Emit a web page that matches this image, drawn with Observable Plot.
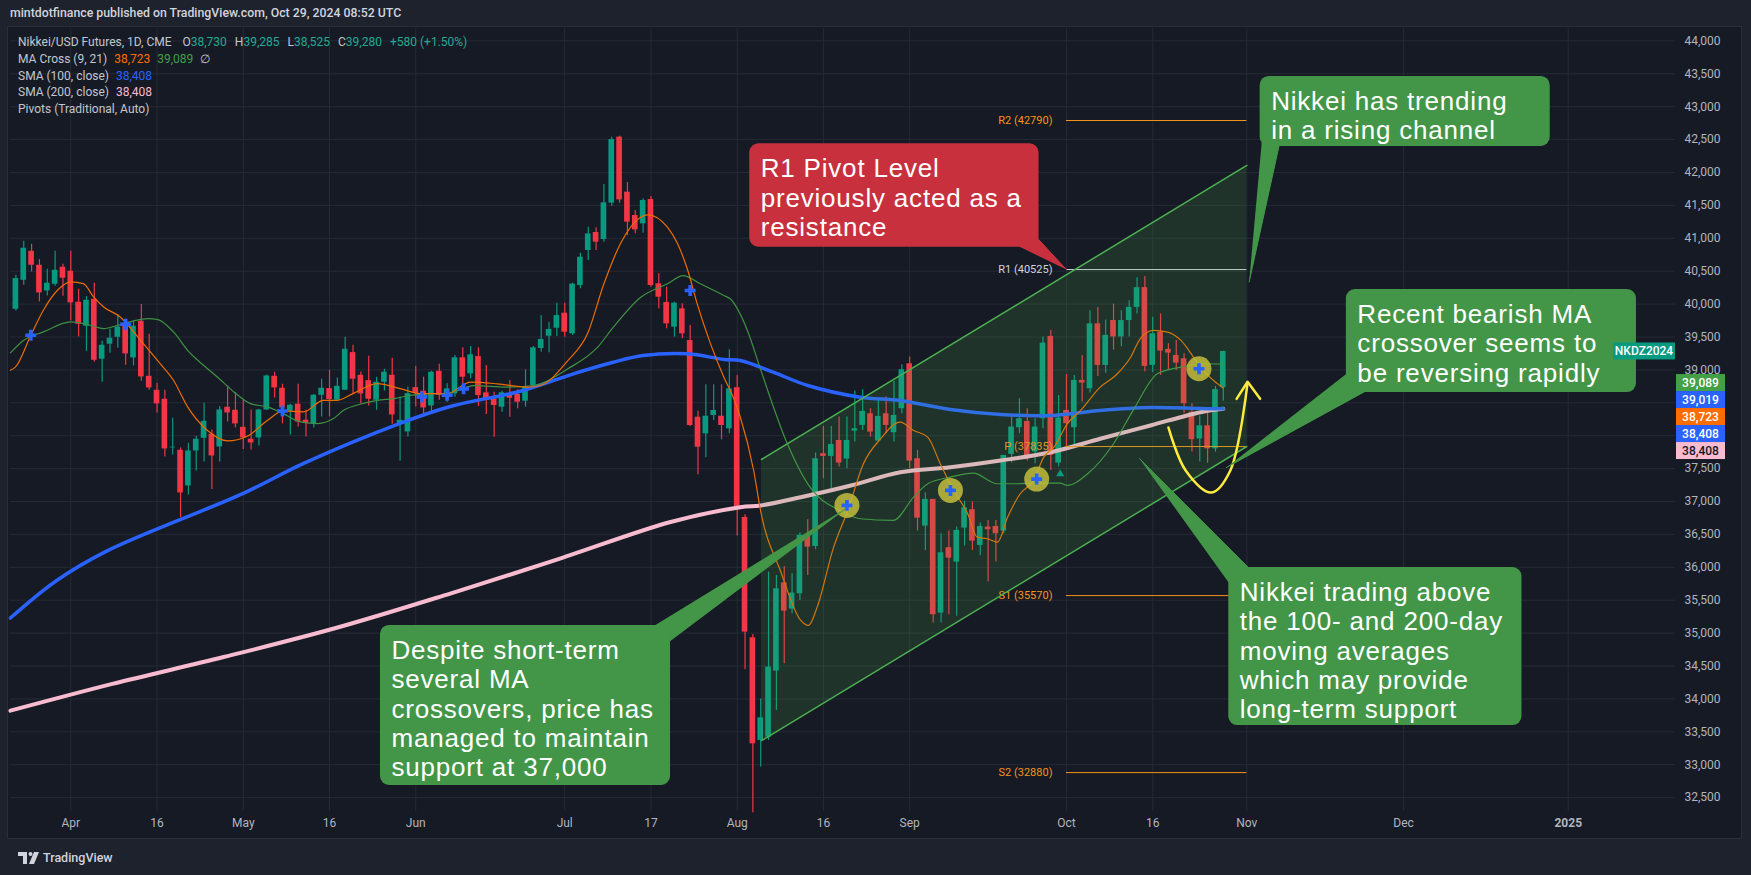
<!DOCTYPE html>
<html><head><meta charset="utf-8">
<script src="https://cdn.jsdelivr.net/npm/d3@7"></script>
<script src="https://cdn.jsdelivr.net/npm/@observablehq/plot@0.6"></script>
<style>
body{margin:0;background:#1e222d;width:1751px;height:875px;overflow:hidden;font-family:Roboto,"Noto Sans",sans-serif;position:relative;}
#hdr{position:absolute;left:10px;top:6px;color:#d1d4dc;font-size:12.3px;font-weight:500;white-space:nowrap;}
#frame{position:absolute;left:8px;top:27px;width:1733px;height:811px;background:#161a25;box-shadow:0 0 0 1px #2a2e39;}
#legend{position:absolute;left:18px;top:34px;font-size:12px;line-height:16.8px;color:#c3c6ce;white-space:nowrap;}
#legend span.v{margin-left:4px;}
#legend span.k{margin-left:8px;}
#footer{position:absolute;left:18px;top:850px;color:#d1d4dc;font-size:12.5px;font-weight:500;display:flex;align-items:center;gap:3px;}
</style></head>
<body>
<div id="hdr">mintdotfinance published on TradingView.com, Oct 29, 2024 08:52 UTC</div>
<div id="frame"></div>
<div id="legend">
<div>Nikkei/USD Futures, 1D, CME <span class="k">O</span><span style="color:#22ab94">38,730</span><span class="k">H</span><span style="color:#22ab94">39,285</span><span class="k">L</span><span style="color:#22ab94">38,525</span><span class="k">C</span><span style="color:#22ab94">39,280</span><span class="k" style="color:#22ab94">+580 (+1.50%)</span></div>
<div>MA Cross (9, 21) <span class="v" style="color:#ff6d00">38,723</span> <span class="v" style="color:#43a047">39,089</span> <span class="v">∅</span></div>
<div>SMA (100, close) <span class="v" style="color:#2962ff">38,408</span></div>
<div>SMA (200, close) <span class="v" style="color:#f8bbd0">38,408</span></div>
<div>Pivots (Traditional, Auto)</div>
</div>
<div id="footer"><svg width="22" height="12" viewBox="0 0 22 12"><path d="M0 0h9v12H5V4H0z" fill="#d1d4dc"/><circle cx="12.5" cy="2" r="2" fill="#d1d4dc"/><path d="M16 0h5l-5 12h-5z" fill="#d1d4dc"/></svg><span>TradingView</span></div>
<script>
// ---------- data ----------
const xTickIdx = [0, 11, 22, 33, 44, 63, 74, 85, 96, 107, 127, 138, 150, 170, 191];
const xTickLab = ["Apr", "16", "May", "16", "Jun", "Jul", "17", "Aug", "16", "Sep", "Oct", "16", "Nov", "Dec", "2025"];
const yTicks = d3.range(32500, 44001, 500);
const yHiddenLabels = [38000, 38500]; // covered by the price-scale labels

const barIdx = d3.range(-7, 148);
const open = [39921,40362,40803,40590,40200,40301,40560,40499,40028,39663,40073,39162,39390,39496,39709,39182,39739,38903,38690,38554,37815,37778,37236,37768,37961,38022,37829,38432,38386,38128,37946,37966,38391,38903,38721,38371,38478,38234,38184,38614,38716,38539,38690,39263,38918,38837,38539,38812,38918,38184,38057,38731,38675,38452,38979,38585,38636,39183,38940,39203,38651,38560,38433,38636,38626,38524,38762,39325,39512,39634,39862,39548,40282,40814,41088,40981,41534,42537,41701,41346,41220,41589,40308,40024,39649,39928,39446,38281,38028,38307,38296,38104,38729,36758,34929,33369,33419,34423,35765,35365,35598,36469,36317,37726,37685,37928,37645,38070,38156,38333,37918,38333,38045,38410,39093,37650,36626,37032,35304,36297,36079,36596,36875,36332,36611,36621,36550,37716,38121,38217,37751,38257,39509,37584,38384,38121,38840,38713,39700,39068,39750,39500,39750,39950,40250,39068,39575,39311,39220,39169,38359,37950,38150,37800,38730];
const high = [40438,40955,40909,40676,40529,40803,40605,40803,40225,40114,40317,39435,39617,39840,39769,39739,39992,39541,38797,38690,38265,37814,37885,37991,38493,38088,38442,38756,38655,38538,38391,38401,38923,38964,38782,38478,38782,38386,38630,38858,38994,38878,39496,39375,38969,39207,38888,39010,39177,38589,38741,39055,38888,38979,39086,38788,39219,39335,39355,39335,39067,38661,38676,38838,38697,39001,39355,39826,39725,40014,40014,40318,40774,41169,41159,41817,42537,42552,41848,41422,41600,41635,40460,40257,40029,40004,39674,38372,38773,38773,38773,39305,38916,36798,34980,34000,35927,35877,36013,35902,36520,36723,37736,38141,38141,38283,38283,38678,38698,38410,38546,38587,38825,39078,39195,37776,37133,37032,36510,36550,36611,37006,36991,36672,36712,36712,37700,38318,38562,38409,38257,39499,39600,38612,38931,38916,39220,39900,39950,39760,40000,39900,40050,40400,40420,39800,39850,39397,39450,39245,38486,38300,38350,38750,39285];
const low = [39896,40286,40489,40033,40124,40271,40119,39744,39501,39283,39116,38812,39253,39329,39070,39060,38827,38690,38346,37677,37708,36755,37100,37464,37601,37181,37601,38209,38118,37789,37784,37844,38386,38574,38179,38012,38133,37981,38118,38285,38285,38539,38690,38625,38483,38452,38386,38680,38174,37611,37981,38437,38295,38351,38539,38509,38585,38737,38864,38443,38322,37977,38357,38281,38408,38433,38737,39269,39259,39507,39497,39523,40232,40662,40814,40941,41483,41534,41042,41067,41078,40257,39928,39624,39497,39472,38139,37405,37663,38231,37937,38028,36474,34443,32270,32964,33369,33825,34534,35294,35497,35877,36267,37346,37194,37523,37498,37903,38080,37979,37903,38030,37903,38333,37498,36550,36256,35152,35152,35279,35258,36322,36256,36180,35775,36079,36510,37584,38030,37614,37574,38106,37472,37523,37812,37852,38511,38650,38900,38950,39300,39350,39500,39850,38970,38960,38916,38992,38992,38334,37751,37600,37580,37750,38525];
const close = [40388,40849,40590,40170,40317,40514,40393,40018,39693,40058,39146,39374,39481,39653,39243,39663,38893,38726,38483,37799,37825,37130,37768,37946,38219,37692,38391,38346,38179,37966,37890,38391,38908,38726,38422,38462,38209,38184,38614,38721,38549,38751,39314,38858,38635,38554,38812,38964,38315,38234,38640,38640,38422,38964,38614,38712,39183,38889,39229,38610,38535,38459,38651,38570,38509,38747,39335,39462,39614,39826,39573,40303,40713,41067,40941,41539,42501,41584,41245,41128,41574,40282,40105,39700,40014,39548,38155,37825,38296,38383,38155,38712,36880,35015,33318,33713,34483,35674,35334,35608,36485,36307,37650,37685,37867,37584,37928,38106,38369,38055,38293,38156,38308,39002,37614,36748,37032,35279,36221,36140,36560,36905,36398,36621,36571,36510,37700,38131,38257,37665,38131,39407,37700,38268,38182,38840,38800,39700,39068,39524,39500,39750,39950,40250,39053,39549,39286,39255,39104,38486,37939,38150,37800,38700,39280];

// moving averages (bar index, value)
const sma100 = [[-7.7,35229],[-1.8,35800],[4.7,36254],[22,37123],[29.7,37579],[42,38187],[48.4,38444],[57.7,38687],[64.1,38940],[69.2,39117],[73,39219],[78.7,39245],[83.3,39158],[85.4,39143],[89.6,38965],[94,38763],[100.7,38585],[105.8,38535],[112.2,38398],[118.6,38322],[125,38307],[131.3,38383],[137.7,38428],[144.1,38413],[147,38408]];
const sma200 = [[-7.7,33821],[5.3,34228],[19.5,34636],[33.8,35077],[48,35586],[62.3,36129],[76.5,36689],[85.4,36913],[88,36939],[93.1,37065],[99.5,37243],[105.8,37445],[112.2,37521],[118.6,37623],[125,37749],[131.3,37953],[137.7,38155],[144.1,38357],[147,38408]];
const ma9 = [[-7.7,38994],[-7.05,39045],[-5.1,39526],[-3.5,39906],[-1.7,40210],[0,40337],[1.6,40312],[2.9,40109],[4.2,39957],[6.3,39805],[8.9,39450],[11.4,39096],[13.1,38842],[14.9,38437],[17.4,38082],[20,37920],[22.5,37991],[25.1,38234],[27.1,38376],[29.7,38361],[32.2,38538],[34,38538],[36,38640],[39.1,38792],[42,38716],[44.6,38640],[48,38640],[51,38813],[54.4,38788],[58.3,38737],[59.9,38763],[63.4,39142],[65.9,39548],[68,40308],[70.1,40916],[72.7,41321],[73.6,41356],[76.1,41169],[77.4,40916],[78.7,40510],[79.9,40004],[81.6,39396],[83.3,38889],[84.5,38585],[85.4,38281],[87.1,37471],[88,36850],[90.5,35952],[93.1,35193],[94.1,35117],[95.2,35395],[97.3,36307],[99.1,36864],[101.1,37574],[103.3,37954],[105.8,38207],[107.5,38080],[109.3,37979],[110.9,37574],[112.6,37168],[114.4,36814],[115.6,36459],[116.9,36434],[118.2,36383],[119.5,36763],[121.1,37118],[122.8,37320],[124.1,37675],[125.4,37827],[127.1,38181],[128.8,38384],[131.3,38739],[133.5,38941],[135.2,39195],[136.4,39473],[138.1,39600],[139.9,39575],[141.6,39448],[143.2,39195],[144.1,39043],[147,38723]];
const ma21 = [[-7.7,39258],[-6,39450],[-3.5,39577],[0,39729],[2.5,39678],[4.2,39628],[6,39678],[8,39744],[9.8,39780],[11.1,39765],[13.1,39577],[14.9,39298],[16.2,39146],[18.7,38893],[20.8,38665],[22.9,38488],[25.1,38437],[27.1,38336],[29.3,38209],[31.5,38184],[33.5,38260],[34.8,38386],[36.9,38478],[39.1,38538],[41.2,38564],[43.3,38614],[46.3,38640],[48,38640],[51.4,38762],[55.7,38737],[59,38763],[63.4,39016],[67.2,39345],[69.2,39649],[72.7,40105],[76.1,40308],[78.1,40434],[80.3,40308],[83.3,40131],[84.1,40080],[86.3,39600],[88,39000],[91.4,37876],[94,37268],[96.5,36964],[97.3,36915],[100.7,36738],[104.9,36712],[107.5,37067],[109.3,37270],[112.2,37371],[115.1,37432],[118.2,37270],[120.8,37270],[122.8,37280],[126.2,37280],[127.1,37244],[129.7,37422],[133,37878],[135.5,38384],[138.6,38941],[141.6,39043],[144.1,39093],[147,39089]];

// MA cross markers and highlighted crosses
const crossIdx = [-5.1, 7, 27, 44.8, 48, 50.1, 79, 99, 112.2, 123.2, 143.9];
const crossVal = [39526, 39694, 38376, 38589, 38614, 38712, 40206, 36941, 37168, 37341, 39017];
const circled = [99, 112.2, 123.2, 143.9];

// monthly pivots (traditional)
const pivotNames = ["R2", "R1", "P", "S1", "S2"];
const pivotVals = [42790, 40525, 37835, 35570, 32880];
const pivotColors = ["#f7931a", "#d1d4dc", "#f7931a", "#f7931a", "#f7931a"];
const pivotFrom = 127, pivotTo = 150;

// rising channel
const chanX = [88.1, 150];
const chanUpper = [37638, 42107];
const chanLower = [33367, 37836];

// yellow hand-drawn arrow
const arrowCurve = [[140, 38125], [142.2, 37472], [145.5, 37137], [147.9, 37472], [150.1, 38808]];
const arrowHead = [[148.7, 38560], [150.1, 38820], [151.7, 38560]];

// callouts
const noteText = [
  "R1 Pivot Level\npreviously acted as a\nresistance",
  "Nikkei has trending\nin a rising channel",
  "Recent bearish MA\ncrossover seems to\nbe reversing rapidly",
  "Nikkei trading above\nthe 100- and 200-day\nmoving averages\nwhich may provide\nlong-term support",
  "Despite short-term\nseveral MA\ncrossovers, price has\nmanaged to maintain\nsupport at 37,000"
];
const noteX1 = [86.6, 151.7, 162.7, 147.7, 39.5];
const noteX2 = [123.5, 188.7, 199.7, 185.1, 76.5];
const noteTop = [42436, 43459, 40220, 35997, 35117];
const noteBottom = [40865, 42395, 38655, 33595, 32684];
const noteFill = ["#c8303e", "#439648", "#439648", "#439648", "#439648"];
const noteTails = [
  [[120.5, 40900], [123.3, 41000], [127.0, 40525]],
  [[151.9, 42450], [154.2, 42450], [150.3, 40337]],
  [[162.8, 38950], [165.5, 38700], [147.4, 37517]],
  [[147.8, 35750], [150.6, 35950], [136.3, 37654]],
  [[74.0, 35080], [76.4, 34880], [98.85, 36893]]
];

// price-scale labels
const scaleLabVals = [39089, 39019, 38723, 38408, 38408];
const scaleLabFill = ["#43a047", "#2962ff", "#ff6d00", "#2962ff", "#f8bbd0"];
const scaleLabText = ["#ffffff", "#ffffff", "#ffffff", "#ffffff", "#131722"];
const lastClose = 39280;
const symbolName = "NKDZ2024";
const markerTri = [[126.2, 37421]];

// ---------- build ----------
const candles = barIdx.map((i, k) => ({i, o: open[k], h: high[k], l: low[k], c: close[k], up: close[k] >= open[k]}));
const toPts = a => a.map(([i, v]) => ({i, v}));
const UP = "#089981", DN = "#f23645";
const crosses = crossIdx.map((i, k) => ({i, v: crossVal[k]}));
const circles = crosses.filter(d => circled.includes(d.i));
const pivots = pivotNames.map((n, k) => ({n, v: pivotVals[k], col: pivotColors[k]}));
const notes = noteText.map((t, k) => ({t, x1: noteX1[k], x2: noteX2[k], y1: noteTop[k], y2: noteBottom[k], fill: noteFill[k]}));
const tails = noteTails.flatMap((poly, k) => poly.map(([i, v]) => ({k, i, v, fill: noteFill[k]})));
const chan = chanX.map((x, k) => ({x, lo: chanLower[k], hi: chanUpper[k]}));
const yLabelTicks = yTicks.filter(v => !yHiddenLabels.includes(v));

function scaleLabels(index, scales) {
  const g = d3.create("svg:g").attr("font-family", "Roboto, sans-serif").attr("font-size", 12).attr("font-weight", 500);
  const x0 = scales.x(204.68);
  const yStart = scales.y(scaleLabVals[0]) + 19;
  scaleLabVals.forEach((v, k) => {
    const yc = yStart + 17 * k;
    g.append("rect").attr("x", x0 + 1).attr("y", yc - 8.5).attr("width", 49).attr("height", 17).attr("fill", scaleLabFill[k]);
    g.append("text").attr("x", x0 + 25.5).attr("y", yc).attr("dy", "0.35em").attr("text-anchor", "middle").attr("fill", scaleLabText[k]).text(d3.format(",")(v));
  });
  const yc = scales.y(lastClose);
  g.append("rect").attr("x", x0 - 62).attr("y", yc - 8.5).attr("width", 62).attr("height", 17).attr("fill", "#089981");
  g.append("text").attr("x", x0 - 31).attr("y", yc).attr("dy", "0.35em").attr("text-anchor", "middle").attr("fill", "#ffffff").text(symbolName);
  return g.node();
}

const chart = Plot.plot({
  width: 1733, height: 811,
  marginLeft: 2, marginRight: 66, marginTop: 1, marginBottom: 27,
  x: {domain: [-7.69, 204.68], axis: null},
  y: {domain: [32289, 44188], axis: null},
  style: {background: "transparent", color: "#b2b5be", fontFamily: "Roboto, sans-serif", overflow: "visible"},
  marks: [
    Plot.gridY(yTicks, {stroke: "#262a36", strokeOpacity: 1}),
    Plot.gridX(xTickIdx, {stroke: "#262a36", strokeOpacity: 1}),
    Plot.axisY(yLabelTicks, {anchor: "right", tickSize: 0, tickPadding: 9, fontSize: 12, tickFormat: d3.format(","), fill: "#b2b5be"}),
    Plot.text(xTickIdx.slice(0, -1), {x: d => d, text: (d, k) => xTickLab[k], frameAnchor: "bottom", dy: 15, fontSize: 12, fill: "#b2b5be"}),
    Plot.text(xTickIdx.slice(-1), {x: d => d, text: () => xTickLab[xTickLab.length - 1], frameAnchor: "bottom", dy: 15, fontSize: 12, fontWeight: 700, fill: "#b2b5be"}),
    // candles
    Plot.ruleX(candles, {x: "i", y1: "l", y2: "h", stroke: d => d.up ? UP : DN, strokeWidth: 1.2}),
    Plot.rect(candles, {x1: d => d.i - 0.36, x2: d => d.i + 0.36, y1: d => Math.min(d.o, d.c), y2: d => Math.max(d.o, d.c), fill: d => d.up ? UP : DN}),
    // moving averages
    Plot.line(toPts(sma200), {x: "i", y: "v", stroke: "#f8bbd0", strokeWidth: 4, curve: "catmull-rom"}),
    Plot.line(toPts(sma100), {x: "i", y: "v", stroke: "#2962ff", strokeWidth: 3.5, curve: "catmull-rom"}),
    Plot.line(toPts(ma21), {x: "i", y: "v", stroke: "#3f9142", strokeWidth: 1.2, curve: "monotone-x"}),
    Plot.line(toPts(ma9), {x: "i", y: "v", stroke: "#ef6c00", strokeWidth: 1.2, curve: "monotone-x"}),
    // pivots
    Plot.ruleY(pivots, {y: "v", x1: () => pivotFrom, x2: () => pivotTo, stroke: "col", strokeWidth: 1}),
    Plot.text(pivots, {x: () => pivotFrom, y: "v", text: d => `${d.n} (${d.v})`, textAnchor: "end", dx: -14, fill: "col", fontSize: 11}),
    // channel
    Plot.areaY(chan, {x: "x", y1: "lo", y2: "hi", fill: "#4caf50", fillOpacity: 0.17}),
    Plot.line(chan, {x: "x", y: "hi", stroke: "#4caf50", strokeWidth: 1.5}),
    Plot.line(chan, {x: "x", y: "lo", stroke: "#4caf50", strokeWidth: 1.5}),
    // highlighted crosses
    Plot.dot(circles, {x: "i", y: "v", r: 12.5, fill: "#c2bd3c", fillOpacity: 0.85}),
    Plot.dot(crosses, {x: "i", y: "v", r: 4.6, symbol: "cross", fill: "#2962ff"}),
    Plot.dot(toPts(markerTri), {x: "i", y: "v", r: 3, symbol: "triangle", fill: "#089981"}),
    // yellow arrow
    Plot.line(toPts(arrowCurve), {x: "i", y: "v", stroke: "#ffeb3b", strokeWidth: 2.5, curve: "catmull-rom"}),
    Plot.line(toPts(arrowHead), {x: "i", y: "v", stroke: "#ffeb3b", strokeWidth: 2.5}),
    // callouts
    Plot.line(tails, {x: "i", y: "v", z: "k", fill: "fill", stroke: "fill", strokeWidth: 1}),
    Plot.rect(notes, {x1: "x1", x2: "x2", y1: "y1", y2: "y2", fill: "fill", rx: 9}),
    Plot.text(notes, {x: "x1", y: "y1", text: "t", textAnchor: "start", lineAnchor: "top", dx: 11, dy: 12.5, fontSize: 26, lineHeight: 1.13, fontFamily: "Liberation Sans, Arial, sans-serif", fill: "#ffffff"}),
    scaleLabels
  ]
});
d3.select(chart).selectAll('g[font-size="26"] text').attr("letter-spacing", "0.8px");
chart.style.position = "absolute";
chart.style.left = "0px";
chart.style.top = "0px";
document.getElementById("frame").appendChild(chart);
</script>
</body></html>
